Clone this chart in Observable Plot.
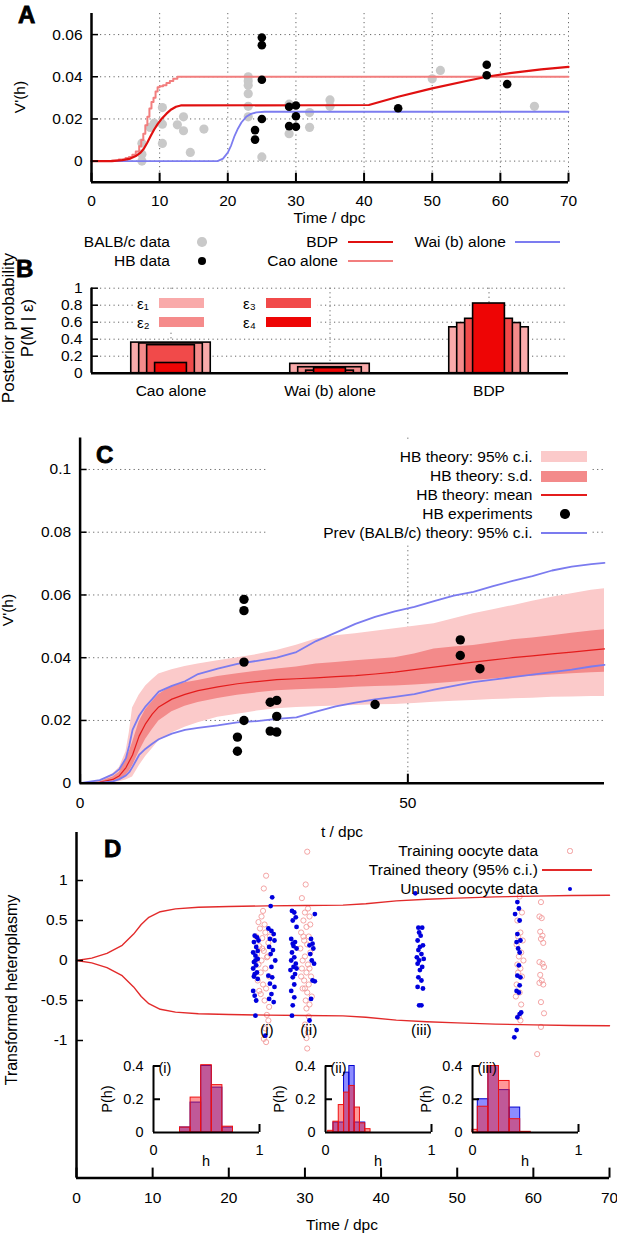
<!DOCTYPE html>
<html><head><meta charset="utf-8">
<script src="https://cdn.jsdelivr.net/npm/d3@7"></script>
<script src="https://cdn.jsdelivr.net/npm/@observablehq/plot@0.6"></script>
<style>
body{margin:0;background:#fff;}
#root{position:relative;width:617px;height:1233px;overflow:hidden;font-family:"Liberation Sans",Arial,sans-serif;color:#000;background:#fff;}
#root svg{position:absolute;}
.t{position:absolute;line-height:1;white-space:nowrap;}
.b{position:absolute;}
</style></head><body><div id="root"></div>
<script>
// ---------------- DATA ----------------
// Panel A: BALB/c data (grey) and HB data (black)
const balbT = [7.4,7.4,7.4,8.6,9.2,10.4,10.4,10.4,12.6,13.5,13.5,14.5,16.5,23,23,23,23,23,23,25,29,29,32,32,35,35,50,51.2,65];
const balbV = [0,0.0033,0.0085,0.016,0.018,0.0254,0.0175,0.0084,0.0172,0.021,0.0144,0.0041,0.0152,0.040,0.038,0.036,0.032,0.026,0.021,0.002,0.027,0.013,0.023,0.016,0.029,0.026,0.039,0.043,0.026];
const hbT = [25,25,25,25,24,24,29,30,30,29,30,45,58,58,61];
const hbV = [0.0586,0.055,0.0386,0.020,0.0147,0.0102,0.0258,0.0264,0.0213,0.0166,0.0163,0.0251,0.0457,0.0407,0.0365];
// Panel A model curves
const caoT = [0,3,4,5,5.5,6,6.5,7,7.3,7.6,7.9,8.2,8.5,8.8,9.1,9.4,9.7,10,10.5,11,11.5,12,12.6,70];
const caoV = [0,0.0003,0.0008,0.0015,0.002,0.003,0.0045,0.007,0.010,0.013,0.017,0.021,0.025,0.028,0.030,0.033,0.035,0.0355,0.036,0.037,0.038,0.039,0.040,0.040];
const bdpT = [0,3,4.5,5.7,6.5,7.2,7.7,8.2,8.7,9.2,9.7,10.2,11,11.7,12.4,13.1,40.7,45,50,55,58,62,66,70];
const bdpV = [0,0,0.0005,0.0012,0.0024,0.004,0.006,0.0088,0.012,0.015,0.0175,0.0197,0.0225,0.0245,0.0258,0.0264,0.0266,0.0305,0.0345,0.038,0.040,0.042,0.0435,0.0447];
const waiT = [0,18.5,19.3,20,20.5,21,21.5,22,22.7,23.4,24.2,25.4,70];
const waiV = [0,0,0.0012,0.004,0.0075,0.012,0.0155,0.0183,0.021,0.0224,0.0231,0.0234,0.0234];
const aXTicks = [0,10,20,30,40,50,60,70];
const aYTicks = [0,0.02,0.04,0.06];

// Panel B: posterior probabilities per epsilon (eps1..eps4)
const models = ["Cao alone","Wai (b) alone","BDP"];
const epsLabels = ["ε₁","ε₂","ε₃","ε₄"];
const postCao = [0.36,0.35,0.33,0.12];
const postWai = [0.11,0.07,0.03,0.06];
const postBDP = [0.54,0.59,0.64,0.82];
const bYTicks = [0,0.2,0.4,0.6,0.8,1];

// Panel C: HB theory bands and previous theory
const cT      = [0,3,5,6,7,7.5,8,9,10,11,12,14,16,18,21,24,27,30,33,36,39,42,45,48,51,54,57,60,63,66,69,72,75,78,80];
const cCiLo   = [0,0,0.0002,0.0005,0.001,0.0015,0.002,0.0055,0.0085,0.011,0.0135,0.016,0.0178,0.0193,0.021,0.022,0.023,0.0237,0.0241,0.0244,0.0246,0.0248,0.025,0.0251,0.0254,0.0258,0.0261,0.0264,0.0267,0.0269,0.0271,0.0274,0.0275,0.0276,0.0276];
const cCiHi   = [0,0.0008,0.003,0.005,0.010,0.016,0.024,0.028,0.031,0.033,0.0348,0.0362,0.0372,0.038,0.039,0.040,0.041,0.0423,0.044,0.046,0.047,0.0476,0.0484,0.0492,0.050,0.0508,0.0524,0.054,0.0553,0.0566,0.058,0.0593,0.0604,0.0615,0.062];
const cSdLo   = [0,0.0001,0.0006,0.0012,0.0025,0.0038,0.0055,0.010,0.014,0.017,0.0198,0.0228,0.0245,0.0257,0.027,0.028,0.0288,0.0295,0.0298,0.030,0.0302,0.0306,0.0308,0.031,0.0313,0.0317,0.0322,0.0327,0.0332,0.0338,0.0341,0.0345,0.0349,0.0352,0.0354];
const cSdHi   = [0,0.0005,0.002,0.0035,0.008,0.010,0.013,0.0195,0.0235,0.026,0.0283,0.031,0.032,0.0327,0.034,0.0349,0.0357,0.0364,0.037,0.038,0.0385,0.039,0.0395,0.040,0.0412,0.0428,0.0434,0.0439,0.0448,0.0457,0.0463,0.047,0.0478,0.0485,0.0489];
const cMean   = [0,0.0003,0.0012,0.0024,0.005,0.007,0.009,0.015,0.019,0.022,0.0243,0.0268,0.0283,0.0295,0.0307,0.0317,0.0324,0.033,0.0333,0.0336,0.034,0.0343,0.0348,0.0354,0.0362,0.037,0.0378,0.0386,0.0393,0.040,0.0406,0.0412,0.0418,0.0424,0.0428];
const cPrevLo = [0,0.0001,0.0006,0.0013,0.0025,0.0035,0.0052,0.009,0.011,0.0126,0.014,0.0158,0.017,0.0176,0.0184,0.0194,0.0198,0.0205,0.021,0.0228,0.0245,0.0257,0.0267,0.0275,0.0284,0.0298,0.031,0.0322,0.033,0.0338,0.0346,0.0354,0.0362,0.0372,0.0377];
const cPrevHi = [0,0.001,0.0028,0.0045,0.008,0.012,0.017,0.0215,0.0245,0.0268,0.0292,0.031,0.0325,0.0348,0.0365,0.038,0.039,0.040,0.0418,0.0453,0.048,0.0508,0.053,0.0548,0.0562,0.058,0.0598,0.061,0.0628,0.0645,0.066,0.0678,0.069,0.0698,0.0702];
const cXTicks = [0,50];
const cYTicks = [0,0.02,0.04,0.06,0.08,0.1];

// Panel D: trained theory 95% c.i.
const dT     = [0,2,4,6,7.5,8.5,9.5,11,13,16,20,25,30,35,38,42,46,50,55,60,65,70];
const dUpper = [0,0.03,0.09,0.19,0.33,0.45,0.54,0.61,0.645,0.665,0.675,0.683,0.688,0.692,0.71,0.745,0.765,0.78,0.795,0.805,0.812,0.815];
const dLower = [0,-0.03,-0.09,-0.19,-0.33,-0.45,-0.54,-0.61,-0.645,-0.665,-0.675,-0.683,-0.688,-0.692,-0.71,-0.745,-0.765,-0.78,-0.795,-0.805,-0.812,-0.815];
// training oocytes [t, transformed h]
const training = [
 [24.9,1.06],[24.6,0.90],[24.5,0.62],[24.3,0.55],[23.9,0.48],[24.7,0.45],[24.1,0.40],[24.8,0.35],[23.6,0.30],[25.4,0.30],[24.4,0.28],[25.2,0.22],[24.0,0.18],[24.4,0.15],[24.6,0.12],[23.7,0.08],[25.1,0.05],[25.0,0.04],[24.3,0.0],[23.9,-0.05],[24.8,-0.10],[24.2,-0.15],[25.3,-0.20],[23.8,-0.25],[24.5,-0.30],[24.9,-0.35],[24.0,-0.38],[24.2,-0.42],[24.7,-0.50],[25.3,-0.58],[25.0,-0.68],[25.2,-0.75],[24.8,-0.85],[24.6,-0.98],[24.9,-1.02],
 [30.3,1.36],[30.1,0.95],[29.6,0.78],[30.4,0.65],[30.0,0.60],[30.6,0.55],[29.8,0.50],[30.7,0.45],[30.2,0.42],[29.5,0.35],[30.5,0.30],[29.8,0.30],[29.9,0.25],[30.3,0.20],[29.4,0.15],[30.7,0.10],[30.0,0.05],[29.7,0.0],[30.4,-0.05],[29.6,-0.10],[30.6,-0.10],[30.2,-0.15],[30.8,-0.20],[29.5,-0.20],[29.9,-0.25],[30.5,-0.30],[29.7,-0.35],[30.0,-0.35],[30.3,-0.40],[30.9,-0.45],[30.1,-0.50],[30.6,-0.55],[30.2,-0.60],[30.5,-0.70],[30.0,-0.80],[30.4,-0.90],[30.2,-0.97],[30.3,-1.10],
 [58.2,0.80],[58.5,0.60],[57.9,0.50],[58.3,0.35],[58.0,0.30],[58.6,0.25],[57.8,0.20],[58.4,0.10],[58.1,0.05],[58.7,0.0],[57.9,-0.05],[58.3,-0.10],[58.0,-0.15],[58.5,-0.20],[57.8,-0.30],[58.2,-0.40],[57.7,-0.45],[58.4,-0.55],[58.1,-0.70],[58.3,-0.75],
 [61.0,0.73],[60.8,0.55],[61.1,0.53],[60.9,0.36],[61.2,0.31],[61.0,0.27],[61.3,0.22],[60.8,-0.02],[61.2,-0.04],[61.4,-0.08],[60.9,-0.18],[61.1,-0.25],[60.8,-0.28],[61.3,-0.30],[61.0,-0.52],[61.4,-0.66],[61.0,-0.83],[60.5,-1.17]
];
// unused oocytes [t, transformed h]
const unused = [
 [23.4,0.31],[23.7,0.29],[23.9,0.25],[23.3,0.23],[23.6,0.17],[23.8,0.12],[23.2,0.10],[23.5,0.06],[23.8,0.02],[23.5,0.0],[23.3,-0.02],[23.6,-0.06],[23.2,-0.10],[23.7,-0.15],[23.4,-0.17],[23.3,-0.20],[23.8,-0.23],[23.2,-0.38],[23.4,-0.44],[23.6,-0.50],[23.5,-0.69],
 [25.7,0.79],[25.5,0.68],[25.2,0.40],[25.6,0.37],[25.9,0.33],[25.4,0.27],[26.0,0.25],[25.3,0.17],[25.8,0.13],[25.5,0.08],[26.1,0.0],[25.6,-0.08],[25.2,-0.19],[25.7,-0.21],[25.4,-0.29],[26.0,-0.33],[25.6,-0.42],[25.3,-0.48],[25.9,-0.52],[24.8,-0.94],
 [28.3,0.62],[28.6,0.60],[28.8,0.54],[28.4,0.50],[28.9,0.42],[28.2,0.27],[28.7,0.23],[28.4,0.21],[28.5,0.18],[28.9,0.15],[28.3,0.10],[28.6,0.04],[28.2,0.0],[28.8,-0.04],[28.5,-0.08],[28.9,-0.10],[28.1,-0.12],[28.7,-0.17],[28.4,-0.21],[28.6,-0.30],[28.2,-0.38],[28.6,-0.46],[28.4,-0.56],[28.3,-0.69],
 [31.3,0.58],[30.8,0.27],[31.0,0.21],[30.6,0.19],[31.1,0.15],[30.7,0.08],[30.9,0.0],[31.2,-0.04],[31.0,-0.25],[31.3,-0.26],[30.8,-0.48],[30.6,-0.75],
 [44.5,0.84],[44.9,0.41],[45.4,0.41],[45.0,0.35],[45.2,0.31],[44.8,0.25],[45.5,0.19],[45.1,0.17],[44.9,0.13],[45.3,0.08],[44.7,0.04],[45.6,0.02],[45.0,0.0],[44.8,-0.04],[45.4,-0.08],[45.1,-0.12],[44.9,-0.21],[45.3,-0.25],[44.8,-0.33],[45.5,-0.35],[45.0,-0.56],[45.3,-0.56],
 [57.9,0.73],[58.1,0.65],[57.6,0.58],[58.2,0.50],[57.9,0.33],[58.3,0.25],[57.8,0.23],[58.0,0.15],[58.2,0.10],[58.1,-0.06],[57.9,-0.19],[58.3,-0.21],[58.2,-0.31],[57.8,-0.38],[58.1,-0.40],[58.4,-0.65],[58.2,-0.67],[57.9,-0.71],[57.8,-0.87],[57.5,-0.96]
];
const dTags = [{t:25,v:-0.87,s:"(i)"},{t:30.5,v:-0.87,s:"(ii)"},{t:45.3,v:-0.87,s:"(iii)"}];
const dXTicks = [0,10,20,30,40,50,60,70];
const dYTicks = [-1,-0.5,0,0.5,1];
// Inset histograms: bin edges, training and unused probabilities
const histIEdges = [0.25,0.35,0.45,0.55,0.65,0.75];
const histITrain = [0.03,0.21,0.405,0.285,0.035];
const histIUnused = [0.03,0.18,0.40,0.27,0.03];
const histIIEdges = [0.025,0.075,0.125,0.175,0.225,0.275,0.325,0.375,0.425];
const histIITrain = [0.01,0.065,0.165,0.24,0.28,0.15,0.055,0.02];
const histIIUnused = [0,0.06,0.06,0.36,0.40,0.06,0.06,0];
const histIIIEdges = [0,0.05,0.15,0.25,0.35,0.45,0.55];
const histIIITrain = [0.016,0.155,0.40,0.31,0.08,0.004];
const histIIIUnused = [0,0.20,0.40,0.255,0.15,0];

// ---------------- STYLE ----------------
const FONT = "Liberation Sans, Arial, sans-serif";
const FS = 15.5;
const GRID = {stroke:"#666", strokeOpacity:1, strokeDasharray:"1.2,3.3", strokeWidth:1};
const svgStyle = {fontFamily: FONT, fontSize: FS+"px", background: "transparent", overflow: "visible"};
const root = document.getElementById("root");

function place(svg, left, top) { svg.style.left = left + "px"; svg.style.top = top + "px"; root.appendChild(svg); }
function addText(s, x, y, o = {}) {
  const d = document.createElement("div");
  d.className = "t"; d.textContent = s;
  d.style.left = x + "px"; d.style.top = y + "px";
  d.style.fontSize = (o.size || FS) + "px";
  if (o.weight) d.style.fontWeight = o.weight;
  if (o.stroke) d.style.webkitTextStroke = o.stroke;
  const tx = o.anchor === "start" ? "0" : o.anchor === "end" ? "-100%" : "-50%";
  d.style.transform = `translate(${tx},-50%)` + (o.rotate ? ` rotate(${o.rotate}deg)` : "");
  root.appendChild(d);
}
function addBox(x, y, w, h, css) {
  const d = document.createElement("div");
  d.className = "b";
  Object.assign(d.style, {left: x + "px", top: y + "px", width: w + "px", height: h + "px"}, css);
  root.appendChild(d);
}
function addDot(cx, cy, r, css) { addBox(cx - r, cy - r, 2 * r, 2 * r, Object.assign({borderRadius: "50%", boxSizing: "border-box"}, css)); }
const zip = (a, b) => a.map((x, i) => ({x, y: b[i]}));

// ---------------- PANEL A ----------------
{
  const W = 617, H = 225, mL = 91, mR = 49, mT = 13, mB = 43.3;
  const fw = W - mL - mR, fh = H - mT - mB;
  const svg = Plot.plot({
    width: W, height: H, marginLeft: mL, marginRight: mR, marginTop: mT, marginBottom: mB,
    x: {domain: [0, 70]}, y: {domain: [-0.01, 0.07]},
    style: svgStyle,
    marks: [
      Plot.gridX(aXTicks.slice(1), GRID),
      Plot.gridY(aYTicks, GRID),
      Plot.dot(zip(balbT, balbV), {x: "x", y: "y", r: 4.6, fill: "#c9c9c9"}),
      Plot.line(zip(caoT, caoV), {x: "x", y: "y", stroke: "#f27e7e", strokeWidth: 2, curve: "step-after"}),
      Plot.line(zip(waiT, waiV), {x: "x", y: "y", stroke: "#7c7cf0", strokeWidth: 1.8}),
      Plot.line(zip(bdpT, bdpV), {x: "x", y: "y", stroke: "#e01010", strokeWidth: 2.2}),
      Plot.dot(zip(hbT, hbV), {x: "x", y: "y", r: 4.3, fill: "#000"}),
      Plot.ruleX([0], {strokeWidth: 2.5}),
      Plot.ruleY([-0.01], {strokeWidth: 2.5}),
      Plot.tickX(aXTicks, {x: d => d, insetTop: fh - 9, strokeWidth: 2}),
      Plot.tickY(aYTicks, {y: d => d, insetRight: fw - 7, strokeWidth: 1.5}),
      Plot.axisX({ticks: aXTicks, tickSize: 0, tickPadding: 13, tickFormat: d => String(d), label: null, fontSize: FS}),
      Plot.axisY({ticks: aYTicks, tickSize: 0, tickPadding: 9, tickFormat: d => String(d), label: null, fontSize: FS})
    ]
  });
  place(svg, 0, 0);
  addText("A", 18, 15, {size: 24, weight: "bold", anchor: "start", stroke: "0.8px #000"});
  addText("V'(h)", 20, 97, {rotate: -90});
  addText("Time / dpc", 329.5, 218);
  // legend (shared by A and B)
  addText("BALB/c data", 170, 242, {anchor: "end"});
  addDot(202, 242, 4.8, {background: "#c9c9c9"});
  addText("HB data", 170, 261, {anchor: "end"});
  addDot(202, 261, 4.3, {background: "#000"});
  addText("BDP", 338, 242, {anchor: "end"});
  addBox(348, 241, 45, 2.2, {background: "#e01010"});
  addText("Cao alone", 338, 261, {anchor: "end"});
  addBox(348, 260, 45, 2, {background: "#f27e7e"});
  addText("Wai (b) alone", 506, 242, {anchor: "end"});
  addBox(515, 241, 45, 1.8, {background: "#7c7cf0"});
}

// ---------------- PANEL B ----------------
const epsColors = ["#f9aaaa", "#f58b8b", "#f14a4a", "#ee0505"];
const epsBarWidth = [0.5, 0.4, 0.3, 0.2]; // fraction of a model slot
{
  const W = 617, H = 130, mL = 91, mR = 49, mT = 17.7, mB = 27.3;
  const fw = W - mL - mR;
  const probs = [postCao, postWai, postBDP];
  const barMarks = epsLabels.map((e, k) => Plot.rect(models.map((m, i) => ({i, p: probs[i][k]})), {
    x1: d => d.i + 0.5 - epsBarWidth[k] / 2, x2: d => d.i + 0.5 + epsBarWidth[k] / 2,
    y1: 0, y2: "p", fill: epsColors[k], stroke: "#000", strokeWidth: 1.6
  }));
  const svg = Plot.plot({
    width: W, height: H, marginLeft: mL, marginRight: mR, marginTop: mT, marginBottom: mB,
    x: {domain: [0, 3]}, y: {domain: [0, 1]},
    style: svgStyle,
    marks: [
      Plot.gridY(bYTicks.slice(1), GRID),
      Plot.gridX(models.map((m, i) => i + 0.5), GRID),
      ...barMarks,
      Plot.ruleX([0], {strokeWidth: 2.5}),
      Plot.ruleY([0], {strokeWidth: 2.5}),
      Plot.tickY(bYTicks, {y: d => d, insetRight: fw - 7, strokeWidth: 1.5}),
      Plot.axisY({ticks: bYTicks, tickSize: 0, tickPadding: 9, tickFormat: d => String(d), label: null, fontSize: FS}),
      Plot.axisX({ticks: models.map((m, i) => i + 0.5), tickSize: 0, tickPadding: 12, tickFormat: d => models[Math.floor(d)], label: null, fontSize: FS})
    ]
  });
  place(svg, 0, 270);
  addText("B", 16, 269, {size: 24, weight: "bold", anchor: "start", stroke: "0.8px #000"});
  addText("Posterior probability", 8, 328, {rotate: -90, size: 17});
  addText("P(M | ε)", 27, 328, {rotate: -90, size: 17});
  // legend
  addBox(133, 291, 184, 40, {background: "#fff"});
  const lx = [[137, 159], [137, 159], [243, 266], [243, 266]];
  const ly = [303, 321.5, 303, 321.5];
  epsLabels.forEach((e, k) => {
    addText(e, lx[k][0], ly[k], {anchor: "start", size: 15});
    addBox(lx[k][1], ly[k] - 5, 45, 10, {background: epsColors[k]});
  });
}

// ---------------- PANEL C ----------------
{
  const W = 617, H = 420, mL = 79.6, mR = 13, mT = 17.6, mB = 57.3;
  const fw = W - mL - mR, fh = H - mT - mB;
  const rows = cT.map((t, i) => ({t, ciLo: cCiLo[i], ciHi: cCiHi[i], sdLo: cSdLo[i], sdHi: cSdHi[i], mean: cMean[i], pLo: cPrevLo[i], pHi: cPrevHi[i]}));
  const svg = Plot.plot({
    width: W, height: H, marginLeft: mL, marginRight: mR, marginTop: mT, marginBottom: mB,
    x: {domain: [0, 80]}, y: {domain: [0, 0.11]},
    style: svgStyle,
    marks: [
      Plot.gridY(cYTicks.slice(1), GRID),
      Plot.gridX([50], GRID),
      Plot.areaY(rows, {x: "t", y1: "ciLo", y2: "ciHi", fill: "#fbcaca"}),
      Plot.areaY(rows, {x: "t", y1: "sdLo", y2: "sdHi", fill: "#f38a8a"}),
      Plot.line(rows, {x: "t", y: "mean", stroke: "#e41c1c", strokeWidth: 1.2}),
      Plot.line(rows, {x: "t", y: "pHi", stroke: "#7b7bef", strokeWidth: 1.8}),
      Plot.line(rows, {x: "t", y: "pLo", stroke: "#7b7bef", strokeWidth: 1.8}),
      Plot.dot(zip(hbT, hbV), {x: "x", y: "y", r: 4.7, fill: "#000"}),
      Plot.ruleX([0], {strokeWidth: 2.5}),
      Plot.ruleY([0], {strokeWidth: 2.5}),
      Plot.tickX(cXTicks, {x: d => d, insetTop: fh - 9, strokeWidth: 2}),
      Plot.tickY(cYTicks, {y: d => d, insetRight: fw - 7, strokeWidth: 1.5}),
      Plot.axisX({ticks: cXTicks, tickSize: 0, tickPadding: 14, tickFormat: d => String(d), label: null, fontSize: FS}),
      Plot.axisY({ticks: cYTicks, tickSize: 0, tickPadding: 9, tickFormat: d => String(d), label: null, fontSize: FS})
    ]
  });
  place(svg, 0, 420);
  addText("C", 96, 455, {size: 24, weight: "bold", anchor: "start", stroke: "0.8px #000"});
  addText("V'(h)", 8, 610, {rotate: -90});
  addText("t / dpc", 342, 832);
  // legend
  addBox(267, 440, 325, 104, {background: "#fff"});
  const rowsY = [456.7, 476, 495, 514, 533.3];
  const labs = ["HB theory: 95% c.i.", "HB theory: s.d.", "HB theory: mean", "HB experiments", "Prev (BALB/c) theory: 95% c.i."];
  labs.forEach((s, i) => addText(s, 532.5, rowsY[i], {anchor: "end"}));
  addBox(541, rowsY[0] - 5.5, 46, 11, {background: "#fbcaca"});
  addBox(541, rowsY[1] - 5.5, 46, 11, {background: "#f38a8a"});
  addBox(541, rowsY[2] - 0.7, 46, 1.4, {background: "#e41c1c"});
  addDot(565, rowsY[3], 4.7, {background: "#000"});
  addBox(541, rowsY[4] - 0.9, 46, 1.8, {background: "#7b7bef"});
}

// ---------------- PANEL D ----------------
{
  const W = 617, H = 413, mL = 76, mR = 8, mT = 12, mB = 55.4;
  const fw = W - mL - mR, fh = H - mT - mB;
  const svg = Plot.plot({
    width: W, height: H, marginLeft: mL, marginRight: mR, marginTop: mT, marginBottom: mB,
    x: {domain: [0, 70]}, y: {domain: [-2.72, 1.6]},
    style: svgStyle,
    marks: [
      Plot.dot(training, {x: d => d[0], y: d => d[1], r: 2.6, stroke: "#f29b9b", fill: "none", strokeWidth: 0.9}),
      Plot.line(zip(dT, dUpper), {x: "x", y: "y", stroke: "#e22a2a", strokeWidth: 1.4}),
      Plot.line(zip(dT, dLower), {x: "x", y: "y", stroke: "#e22a2a", strokeWidth: 1.4}),
      Plot.dot(unused, {x: d => d[0], y: d => d[1], r: 2.4, fill: "#0000dd"}),
      Plot.text(dTags, {x: "t", y: "v", text: "s", fontSize: FS}),
      Plot.ruleX([0], {strokeWidth: 2.5}),
      Plot.ruleY([-2.72], {strokeWidth: 2.5}),
      Plot.tickX(dXTicks, {x: d => d, insetTop: fh - 10, strokeWidth: 2}),
      Plot.tickY(dYTicks, {y: d => d, insetRight: fw - 7, strokeWidth: 1.5}),
      Plot.axisX({ticks: dXTicks, tickSize: 0, tickPadding: 14, tickFormat: d => String(d), label: null, fontSize: FS}),
      Plot.axisY({ticks: dYTicks, tickSize: 0, tickPadding: 9, tickFormat: d => String(d), label: null, fontSize: FS})
    ]
  });
  place(svg, 0, 820);
  addText("D", 104, 849, {size: 24, weight: "bold", anchor: "start", stroke: "0.8px #000"});
  addText("Transformed heteroplasmy", 12, 990, {rotate: -90, size: 16});
  addText("Time / dpc", 342, 1225);
  addText("Training oocyte data", 538, 851, {anchor: "end"});
  addDot(570, 851, 2.6, {border: "0.9px solid #f29b9b"});
  addText("Trained theory (95% c.i.)", 538, 870, {anchor: "end"});
  addBox(542, 869.3, 50, 1.4, {background: "#e22a2a"});
  addText("Unused oocyte data", 538, 889, {anchor: "end"});
  addDot(570, 889, 2.4, {background: "#0000dd"});
}

// ---------------- INSETS ----------------
function inset(ax, edges, train, unusedP, tag) {
  const W = 180, H = 115, mL = 60, fwI = 106, mR = W - mL - fwI, mT = 10.5, mB = 38;
  const fh = H - mT - mB;
  const bins = train.map((v, i) => ({x1: edges[i], x2: edges[i + 1], tr: v, un: unusedP[i]}));
  const svg = Plot.plot({
    width: W, height: H, marginLeft: mL, marginRight: mR, marginTop: mT, marginBottom: mB,
    x: {domain: [0, 1]}, y: {domain: [0, 0.4]},
    style: svgStyle,
    marks: [
      Plot.rect(bins.filter(d => d.un > 0), {x1: "x1", x2: "x2", y1: 0, y2: "un", fill: "#0000ff", fillOpacity: 0.45, stroke: "#0000d0", strokeWidth: 1}),
      Plot.rect(bins.filter(d => d.tr > 0), {x1: "x1", x2: "x2", y1: 0, y2: "tr", fill: "#ff1a1a", fillOpacity: 0.45, stroke: "#ee1111", strokeWidth: 1}),
      Plot.ruleX([0], {strokeWidth: 2}),
      Plot.ruleY([0], {strokeWidth: 2}),
      Plot.tickY([0.2, 0.4], {y: d => d, insetRight: fwI - 7, strokeWidth: 2}),
      Plot.tickX([1], {x: d => d, insetTop: fh - 8, strokeWidth: 2}),
      Plot.axisY({ticks: [0, 0.2, 0.4], tickSize: 0, tickPadding: 10, tickFormat: d => String(d), label: null, fontSize: 14.5}),
      Plot.axisX({ticks: [0, 1], tickSize: 0, tickPadding: 12, tickFormat: d => String(d), label: null, fontSize: 14.5}),
      Plot.text([tag], {text: d => d, frameAnchor: "top-left", dx: 5, dy: -3, fontSize: 14.5})
    ]
  });
  place(svg, ax - mL, 1055);
  addText("P(h)", ax - 46, 1099, {rotate: -90, size: 14.5});
  addText("h", ax + 53, 1161, {size: 14.5});
}
inset(153, histIEdges, histITrain, histIUnused, "(i)");
inset(325, histIIEdges, histIITrain, histIIUnused, "(ii)");
inset(472, histIIIEdges, histIIITrain, histIIIUnused, "(iii)");
</script></body></html>
